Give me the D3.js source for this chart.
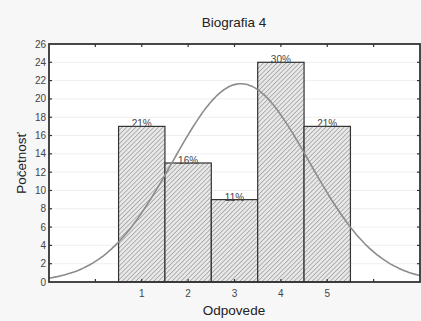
<!DOCTYPE html>
<html>
<head>
<meta charset="utf-8">
<script src="https://cdn.jsdelivr.net/npm/d3@7"></script>
<style>
  body { margin: 0; background: #f7f7f7; }
  svg { display: block; font-family: "Liberation Sans", Arial, sans-serif; }
</style>
</head>
<body>
<div id="chart"></div>
<script>
var categories = [1, 2, 3, 4, 5];
var counts = [17, 13, 9, 24, 17];
var percentLabels = ['21%', '16%', '11%', '30%', '21%'];
var yTicks = [0, 2, 4, 6, 8, 10, 12, 14, 16, 18, 20, 22, 24, 26];
var xTicks = [0, 1, 2, 3, 4, 5, 6];
var xLabels = [1, 2, 3, 4, 5];

var width = 421, height = 321;
var margin = { left: 49, right: 1, top: 44, bottom: 39 };

var svg = d3.select('#chart').append('svg')
  .attr('width', width).attr('height', height);

var defs = svg.append('defs');
var pat = defs.append('pattern')
  .attr('id', 'hatch')
  .attr('patternUnits', 'userSpaceOnUse')
  .attr('width', 3.2).attr('height', 3.2)
  .attr('patternTransform', 'rotate(45)');
pat.append('rect').attr('width', 3.2).attr('height', 3.2).attr('fill', '#e8e8e8');
pat.append('line')
  .attr('x1', 0).attr('y1', 0).attr('x2', 0).attr('y2', 3.2)
  .attr('stroke', '#8e8e8e').attr('stroke-width', 1.2);

var x = d3.scaleLinear().domain([-1, 7]).range([margin.left, width - margin.right]);
var y = d3.scaleLinear().domain([0, 26]).range([height - margin.bottom, margin.top]);

// plot area
svg.append('rect')
  .attr('x', x(-1)).attr('y', y(26))
  .attr('width', x(7) - x(-1)).attr('height', y(0) - y(26))
  .attr('fill', '#fff');

// faint grid
svg.append('g').selectAll('line').data(yTicks.slice(1, -1)).enter().append('line')
  .attr('x1', x(-1)).attr('x2', x(7))
  .attr('y1', function(d) { return y(d); }).attr('y2', function(d) { return y(d); })
  .attr('stroke', '#efefef').attr('stroke-width', 1);

// bars
var bw = x(1) - x(0);
svg.append('g').selectAll('rect').data(categories).enter().append('rect')
  .attr('x', function(d) { return x(d) - bw / 2; })
  .attr('y', function(d, i) { return y(counts[i]); })
  .attr('width', bw)
  .attr('height', function(d, i) { return y(0) - y(counts[i]); })
  .attr('fill', 'url(#hatch)')
  .attr('stroke', '#333').attr('stroke-width', 1.2);

// percent labels
svg.append('g').selectAll('text').data(categories).enter().append('text')
  .attr('x', function(d) { return x(d); })
  .attr('y', function(d, i) { return y(counts[i]) + 1; })
  .attr('text-anchor', 'middle')
  .attr('font-size', 10).attr('fill', '#444')
  .text(function(d, i) { return percentLabels[i]; });

// expected normal curve fitted from the counts
var n = d3.sum(counts);
var mean = d3.sum(categories, function(d, i) { return d * counts[i]; }) / n;
var sd = Math.sqrt(d3.sum(categories, function(d, i) {
  return counts[i] * (d - mean) * (d - mean);
}) / (n - 1));
var curvePts = d3.range(-1, 7.001, 0.05).map(function(v) {
  return { v: v, f: n / (sd * Math.sqrt(2 * Math.PI)) * Math.exp(-(v - mean) * (v - mean) / (2 * sd * sd)) };
});
var line = d3.line()
  .curve(d3.curveBasis)
  .x(function(d) { return x(d.v); })
  .y(function(d) { return y(d.f); });
svg.append('path').datum(curvePts)
  .attr('d', line)
  .attr('fill', 'none')
  .attr('stroke', '#8c8c8c').attr('stroke-width', 1.6);

// frame
svg.append('rect')
  .attr('x', x(-1)).attr('y', y(26))
  .attr('width', x(7) - x(-1)).attr('height', y(0) - y(26))
  .attr('fill', 'none').attr('stroke', '#333').attr('stroke-width', 1.8);

// ticks inward on all sides
var tk = svg.append('g').attr('stroke', '#333').attr('stroke-width', 1.2);
yTicks.slice(1, -1).forEach(function(t) {
  tk.append('line').attr('x1', x(-1)).attr('x2', x(-1) + 3).attr('y1', y(t)).attr('y2', y(t));
  tk.append('line').attr('x1', x(7)).attr('x2', x(7) - 3).attr('y1', y(t)).attr('y2', y(t));
});
xTicks.forEach(function(t) {
  tk.append('line').attr('x1', x(t)).attr('x2', x(t)).attr('y1', y(0)).attr('y2', y(0) - 3);
  tk.append('line').attr('x1', x(t)).attr('x2', x(t)).attr('y1', y(26)).attr('y2', y(26) + 3);
});

// y tick labels
svg.append('g').selectAll('text').data(yTicks).enter().append('text')
  .attr('x', x(-1) - 3)
  .attr('y', function(d) { return y(d) + 3.5; })
  .attr('text-anchor', 'end')
  .attr('font-size', 10).attr('fill', '#444')
  .text(function(d) { return d; });

// x tick labels
svg.append('g').selectAll('text').data(xLabels).enter().append('text')
  .attr('x', function(d) { return x(d); })
  .attr('y', y(0) + 15)
  .attr('text-anchor', 'middle')
  .attr('font-size', 10).attr('fill', '#444')
  .text(function(d) { return d; });

// titles
svg.append('text')
  .attr('x', 234).attr('y', 27)
  .attr('text-anchor', 'middle').attr('font-size', 13.5).attr('fill', '#222')
  .text('Biografia 4');
svg.append('text')
  .attr('x', 234).attr('y', 315)
  .attr('text-anchor', 'middle').attr('font-size', 13.5).attr('fill', '#222')
  .text('Odpovede');
svg.append('text')
  .attr('transform', 'translate(26,' + (y(13)) + ') rotate(-90)')
  .attr('text-anchor', 'middle').attr('font-size', 13.5).attr('fill', '#222')
  .text('Početnosť');
</script>
</body>
</html>
